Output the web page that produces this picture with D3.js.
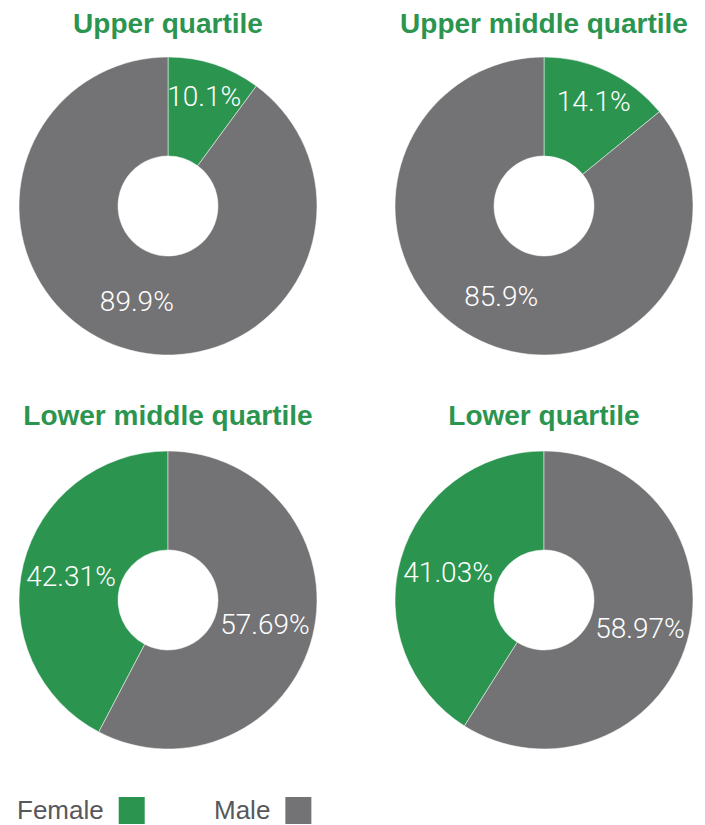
<!DOCTYPE html>
<html>
<head>
<meta charset="utf-8">
<script src="https://cdn.jsdelivr.net/npm/d3@7"></script>
<style>
  html, body { margin: 0; padding: 0; background: #fff; }
  svg { display: block; }
</style>
</head>
<body>
<svg id="chart" width="705" height="825"></svg>
<script>
// Pay quartiles and the share of women / men in each
const quartiles = ["Upper quartile", "Upper middle quartile", "Lower middle quartile", "Lower quartile"];
const femaleShare = [10.1, 14.1, 42.31, 41.03];
const maleShare = [89.9, 85.9, 57.69, 58.97];
const seriesNames = ["Female", "Male"];

// Layout of the four donuts (2 x 2 grid)
const colors = { Female: "#2b9550", Male: "#737375" };
const colX = [168, 544];
const rowY = [206, 600];
const titleY = [33, 425];
const outerR = 149, innerR = 50;
// Upper panels start the Female slice at 12 o'clock, lower panels end it there
const femaleAnchor = ["start", "start", "end", "end"];

const svg = d3.select("#chart");
const arc = d3.arc().innerRadius(innerR).outerRadius(outerR);

quartiles.forEach((name, i) => {
  const col = i % 2, row = Math.floor(i / 2);
  const cx = colX[col], cy = rowY[row];
  const data = [
    { key: "Female", value: femaleShare[i] },
    { key: "Male", value: maleShare[i] }
  ];
  const total = femaleShare[i] + maleShare[i];
  const start = femaleAnchor[i] === "start" ? 0 : -2 * Math.PI * femaleShare[i] / total;
  const pie = d3.pie().sort(null).value(d => d.value)
    .startAngle(start).endAngle(start + 2 * Math.PI);
  const arcs = pie(data);

  svg.append("text")
    .attr("x", cx).attr("y", titleY[row])
    .attr("text-anchor", "middle")
    .attr("font-family", "'Liberation Sans', Arial, sans-serif")
    .attr("font-weight", "bold")
    .attr("font-size", 28)
    .attr("fill", colors.Female)
    .text(name);

  const g = svg.append("g").attr("transform", `translate(${cx},${cy})`);
  g.selectAll("path").data(arcs).join("path")
    .attr("d", arc)
    .attr("fill", d => colors[d.data.key])
    .attr("stroke", "#fff")
    .attr("stroke-width", 0.5);

  // Slice labels: narrow slices sit near the rim, wide ones mid-ring
  g.selectAll("text").data(arcs).join("text")
    .attr("transform", d => {
      const frac = (d.endAngle - d.startAngle) / (2 * Math.PI);
      const r = frac < 0.2 ? outerR * 0.78 : outerR * 0.67;
      const a = (d.startAngle + d.endAngle) / 2;
      return `translate(${Math.sin(a) * r},${-Math.cos(a) * r})`;
    })
    .attr("text-anchor", "middle")
    .attr("dy", "0.36em")
    .attr("font-family", "Roboto, 'Open Sans', sans-serif")
    .attr("font-weight", 300)
    .attr("font-size", 28)
    .attr("fill", "#fff")
    .text(d => d.data.value + "%");
});

// Legend
const legendX = [17, 214];
const legend = svg.append("g");
seriesNames.forEach((s, i) => {
  const t = legend.append("text")
    .attr("x", legendX[i]).attr("y", 819)
    .attr("font-family", "'Liberation Sans', Arial, sans-serif")
    .attr("font-size", 26)
    .attr("fill", "#58585a")
    .text(s);
  const w = t.node().getComputedTextLength();
  legend.append("rect")
    .attr("x", legendX[i] + w + 15).attr("y", 797)
    .attr("width", 26).attr("height", 27)
    .attr("fill", colors[s]);
});
</script>
</body>
</html>
